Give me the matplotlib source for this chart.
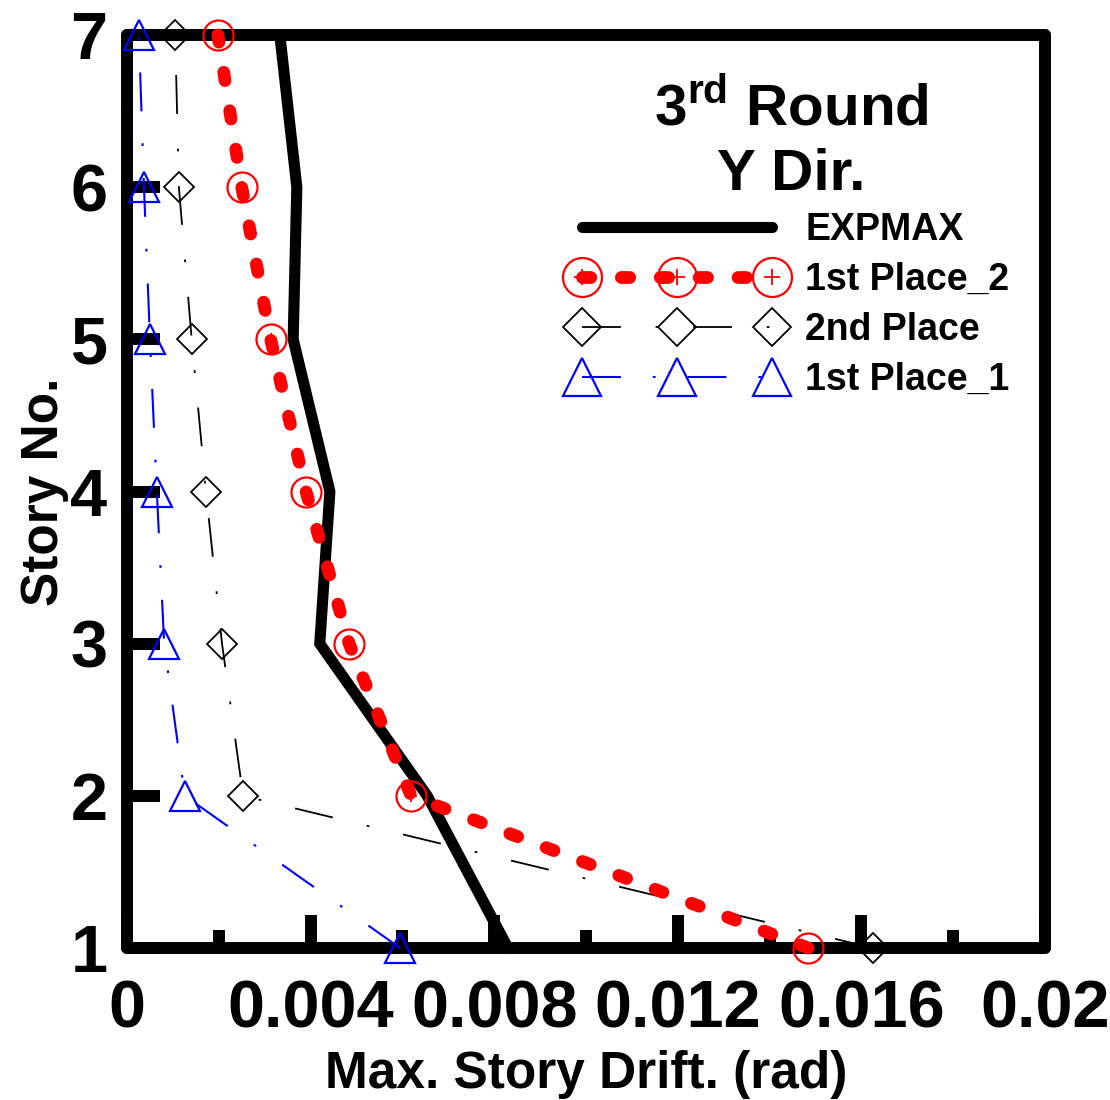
import numpy as np
import matplotlib
matplotlib.use("Agg")
import matplotlib.pyplot as plt
from matplotlib.legend_handler import HandlerTuple

plt.rcParams["font.family"] = ["Liberation Sans", "DejaVu Sans"]
plt.rcParams["font.weight"] = "bold"
plt.rcParams["mathtext.fontset"] = "custom"
plt.rcParams["mathtext.rm"] = "Liberation Sans:bold"
plt.rcParams["mathtext.bf"] = "Liberation Sans:bold"
plt.rcParams["lines.scale_dashes"] = False

# data
story = [1, 2, 3, 4, 5, 6, 7]
expmax = [0.0083, 0.00654, 0.0042, 0.00442, 0.00362, 0.0037, 0.00333]
first_place_2 = [0.01484, 0.00619, 0.00484, 0.0039, 0.00313, 0.0025, 0.00198]
second_place = [0.01625, 0.00253, 0.00207, 0.00172, 0.00141, 0.00113, 0.00105]
first_place_1 = [0.00595, 0.00126, 0.00081, 0.00065, 0.0005, 0.00037, 0.00026]

x_major = [0, 0.004, 0.008, 0.012, 0.016, 0.02]
x_major_labels = ["0", "0.004", "0.008", "0.012", "0.016", "0.02"]
x_minor = [0.002, 0.006, 0.010, 0.014, 0.018]
y_ticks = [1, 2, 3, 4, 5, 6, 7]

fig = plt.figure(figsize=(11.1, 11), dpi=100)
ax = fig.add_axes([127 / 1110, 1 - 948 / 1100, 918 / 1110, 913 / 1100])

# EXPMAX
l_exp, = ax.plot(expmax, story, color="black", lw=8, solid_capstyle="round",
                 solid_joinstyle="miter", zorder=4, clip_on=False)

# 2nd place
l_2nd, = ax.plot(second_place, story, color="black", lw=1.3,
                 linestyle=(0, (28, 25, 2, 25)), marker="D", ms=15,
                 mfc="none", mec="black", mew=1.3, zorder=5, clip_on=False)

# 1st place_1
l_1st1, = ax.plot(first_place_1, story, color="blue", lw=1.5,
                  linestyle=(0, (28, 23, 2, 23)), marker="^", ms=21,
                  mfc="none", mec="blue", mew=1.6, zorder=5, clip_on=False)

# 1st place_2
l_1st2, = ax.plot(first_place_2, story, color="red", lw=9.2,
                  linestyle=(0, (6, 22)), dash_capstyle="round",
                  marker="o", ms=21.6, mfc="none", mec="red", mew=1.6,
                  zorder=6, clip_on=False)
p_1st2, = ax.plot(first_place_2, story, linestyle="none", marker="+", ms=9,
                  mec="red", mew=1.3, zorder=7, clip_on=False)

ax.set_xlim(0, 0.02)
ax.set_ylim(1, 7)

for s in ax.spines.values():
    s.set_linewidth(8.6)
    s.set_capstyle("round")

ax.set_xticks(x_major)
ax.set_xticklabels(x_major_labels)
ax.set_xticks(x_minor, minor=True)
ax.set_yticks(y_ticks)
ax.tick_params(axis="both", which="major", direction="in", length=24, width=8.6,
               labelsize=48, pad=23)
ax.tick_params(axis="x", which="minor", direction="in", length=13, width=8.6)
ax.tick_params(axis="y", which="major", pad=14)
for lab in ax.get_xticklabels() + ax.get_yticklabels():
    lab.set_fontweight("bold")

ax.set_xlabel("Max. Story Drift. (rad)", fontsize=37, fontweight="bold", labelpad=6)
ax.set_ylabel("Story No.", fontsize=37, fontweight="bold", labelpad=1)

fig.text(791 / 1110, 1 - 108 / 1100, r"3$^{\mathrm{rd}}$ Round", fontsize=42,
         fontweight="bold", ha="center", va="center")
fig.text(791 / 1110, 1 - 175 / 1100, "Y Dir.", fontsize=42,
         fontweight="bold", ha="center", va="center")

leg = ax.legend([l_exp, (l_1st2, p_1st2), l_2nd, l_1st1],
                ["EXPMAX", "1st Place_2", "2nd Place", "1st Place_1"],
                handler_map={tuple: HandlerTuple(ndivide=1)},
                loc="upper left", bbox_to_anchor=(571 / 1110, 1 - 212 / 1100),
                bbox_transform=fig.transFigure, frameon=False, numpoints=3,
                markerscale=1.3, handlelength=5.65, handletextpad=0.59,
                labelspacing=0.37, borderpad=0, borderaxespad=0,
                prop={"size": 27, "weight": "bold"})

fig.savefig("out.png", dpi=100)
